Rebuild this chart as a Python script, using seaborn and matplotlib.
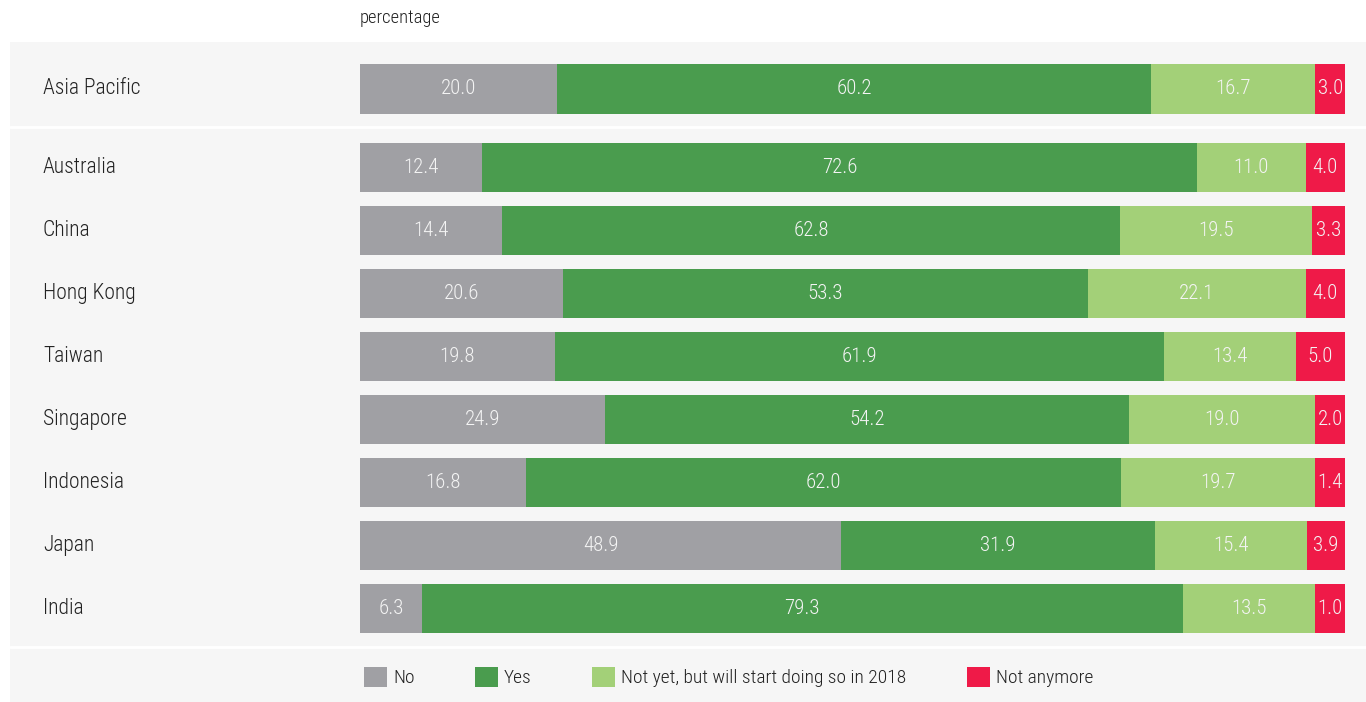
import seaborn as sns
import matplotlib.pyplot as plt
import pandas as pd
from matplotlib.patches import Patch, Rectangle
from matplotlib.transforms import blended_transform_factory

# data
region = ["Asia Pacific"]
countries = ["Australia", "China", "Hong Kong", "Taiwan", "Singapore", "Indonesia", "Japan", "India"]
series = ["No", "Yes", "Not yet, but will start doing so in 2018", "Not anymore"]
colors = ["#a0a0a4", "#4a9c4e", "#a3d078", "#ef1a48"]

region_no = [20.0]
region_yes = [60.2]
region_soon = [16.7]
region_not = [3.0]

no = [12.4, 14.4, 20.6, 19.8, 24.9, 16.8, 48.9, 6.3]
yes = [72.6, 62.8, 53.3, 61.9, 54.2, 62.0, 31.9, 79.3]
soon = [11.0, 19.5, 22.1, 13.4, 19.0, 19.7, 15.4, 13.5]
not_anymore = [4.0, 3.3, 4.0, 5.0, 2.0, 1.4, 3.9, 1.0]

MIN_SEG = 3.0  # the original keeps tiny segments wide enough for their label

sns.set_style("white")
plt.rcParams["font.family"] = ["Roboto Condensed", "DejaVu Sans"]
plt.rcParams["font.weight"] = "light"

W, H = 1366, 702
fig = plt.figure(figsize=(W / 100, H / 100), dpi=100)
fig.patch.set_facecolor("white")

# grey panel with white separators, kept behind the axes
fig.patches.append(Rectangle((10 / W, 0), 1 - 10 / W, 1 - 42 / H, transform=fig.transFigure,
                             facecolor="#f6f6f6", edgecolor="none", zorder=-2))
for yy in (127, 647):
    fig.lines.append(plt.Line2D([10 / W, 1], [1 - yy / H, 1 - yy / H], transform=fig.transFigure,
                                color="white", lw=2, zorder=-1))

x0, x1 = 360 / W, 1345 / W
ax1 = fig.add_axes([x0, 1 - 128 / H, x1 - x0, 85 / H])
ax2 = fig.add_axes([x0, 1 - 648 / H, x1 - x0, 520 / H])


def stacked(ax, names, vals):
    df = pd.DataFrame(dict(zip(series, vals)), index=names)
    # display widths: widen small segments, take the difference from the largest one
    disp = df.copy()
    for name in names:
        row = disp.loc[name]
        extra = (MIN_SEG - row).clip(lower=0)
        row = row + extra
        row[row.idxmax()] -= extra.sum()
        disp.loc[name] = row / row.sum() * 100
    cum = disp.cumsum(axis=1)
    # draw running totals from the longest down so each segment shows
    for s, c in reversed(list(zip(series, colors))):
        sns.barplot(x=cum[s].values, y=names, color=c, orient="h", width=0.778,
                    ax=ax, saturation=1, linewidth=0)
    for i, name in enumerate(names):
        left = 0
        for s in series:
            w = disp.loc[name, s]
            ax.text(left + w / 2, i, f"{df.loc[name, s]:.1f}", ha="center", va="center",
                    color="#f4f4f4", fontsize=15)
            left += w
    tr = blended_transform_factory(fig.transFigure, ax.transData)
    for i, name in enumerate(names):
        ax.text(43 / W, i, name, transform=tr, ha="left", va="center",
                color="#222222", fontsize=15.5)
    ax.set_xlim(0, 100)
    ax.set_facecolor("none")
    ax.set_xticks([])
    ax.set_yticks([])
    ax.set_xlabel("")
    ax.set_ylabel("")
    sns.despine(ax=ax, left=True, bottom=True)


stacked(ax1, region, [region_no, region_yes, region_soon, region_not])
stacked(ax2, countries, [no, yes, soon, not_anymore])
ax1.set_ylim(39 / 63, -46 / 63)
ax2.set_ylim(7 + 39 / 63, -39 / 63)

fig.text(360 / W, 1 - 18 / H, "percentage", ha="left", va="center", fontsize=13.3, color="#222222")

handles = [Patch(facecolor=c, edgecolor="none") for c in colors]
fig.legend(handles, series, loc="center left", bbox_to_anchor=(364 / W, 1 - 677 / H),
           ncol=4, frameon=False, fontsize=14, handlelength=1.2, handleheight=1.2,
           handletextpad=0.3, columnspacing=3.1, borderpad=0, borderaxespad=0,
           labelcolor="#222222")

fig.savefig("out.png", dpi=100)
